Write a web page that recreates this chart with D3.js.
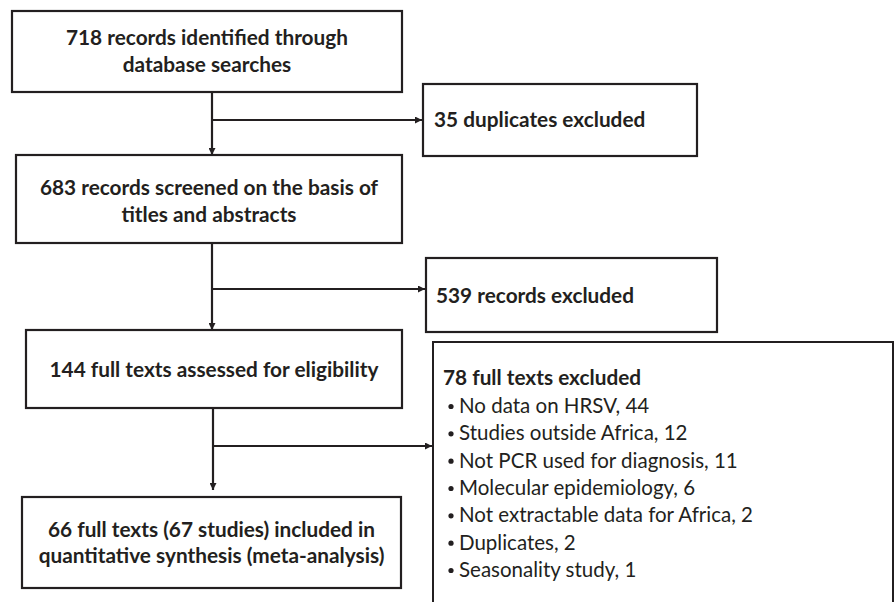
<!DOCTYPE html>
<html>
<head>
<meta charset="utf-8">
<script src="https://cdn.jsdelivr.net/npm/d3@7"></script>
<style>
  html, body { margin: 0; padding: 0; background: #fff; }
  svg { display: block; }
</style>
</head>
<body>
<svg id="chart" width="894" height="602"></svg>
<script>
// ---- data ----
const stageCounts = [718, 683, 144, 66];
const stageLines = [
  ["718 records identified through", "database searches"],
  ["683 records screened on the basis of", "titles and abstracts"],
  ["144 full texts assessed for eligibility"],
  ["66 full texts (67 studies) included in", "quantitative synthesis (meta-analysis)"]
];
const excludedCounts = [35, 539, 78];
const excludedTitles = ["35 duplicates excluded", "539 records excluded", "78 full texts excluded"];
const reasonLabels = [
  "No data on HRSV", "Studies outside Africa", "Not PCR used for diagnosis",
  "Molecular epidemiology", "Not extractable data for Africa", "Duplicates", "Seasonality study"
];
const reasonCounts = [44, 12, 11, 6, 2, 2, 1];

// ---- layout ----
const ink = "#231f20";
const svg = d3.select("#chart");
const font = "Lato, 'Open Sans', sans-serif";
const boldSize = 20.8;
const regSize = 20.5;

svg.append("defs").append("marker")
  .attr("id", "arr").attr("viewBox", "0 0 10 10")
  .attr("refX", 10).attr("refY", 5)
  .attr("markerWidth", 7).attr("markerHeight", 7)
  .attr("markerUnits", "userSpaceOnUse")
  .attr("orient", "auto")
  .append("path").attr("d", "M0,0 L10,5 L0,10 Z").attr("fill", ink);

// main stage boxes
const stageBoxes = [
  {x0: 12, x1: 402, y0: 11, y1: 92, base: [45, 72]},
  {x0: 16, x1: 402, y0: 155, y1: 243, base: [195, 222]},
  {x0: 26, x1: 402, y0: 330, y1: 408, base: [377]},
  {x0: 22, x1: 401, y0: 497, y1: 588, base: [537, 563]}
];
const sideBoxes = [
  {x0: 423, x1: 697, y0: 84, y1: 156, tx: 434, base: 127, arrowY: 120},
  {x0: 426, x1: 717, y0: 258, y1: 332, tx: 436, base: 303, arrowY: 289},
  {x0: 433, x1: 893, y0: 342, y1: 640, tx: 443, base: 385, arrowY: 446}
];
const spineX = [212, 212, 213];

const g = svg.append("g");

stageBoxes.forEach((b, i) => {
  g.append("rect").attr("x", b.x0).attr("y", b.y0)
    .attr("width", b.x1 - b.x0).attr("height", b.y1 - b.y0)
    .attr("fill", "none").attr("stroke", ink).attr("stroke-width", 2.2);
  stageLines[i].forEach((t, j) => {
    g.append("text").attr("x", (b.x0 + b.x1) / 2).attr("y", b.base[j])
      .attr("text-anchor", "middle").attr("fill", ink)
      .attr("font-family", font).attr("font-weight", 700).attr("font-size", boldSize)
      .text(t);
  });
});

sideBoxes.forEach((b, i) => {
  g.append("rect").attr("x", b.x0).attr("y", b.y0)
    .attr("width", b.x1 - b.x0).attr("height", b.y1 - b.y0)
    .attr("fill", "none").attr("stroke", ink).attr("stroke-width", i === 2 ? 2 : 2.2);
  g.append("text").attr("x", b.tx).attr("y", b.base)
    .attr("fill", ink).attr("font-family", font)
    .attr("font-weight", 700).attr("font-size", boldSize)
    .text(excludedTitles[i]);
});

// connectors
for (let i = 0; i < 3; i++) {
  const a = stageBoxes[i], b = stageBoxes[i + 1], s = sideBoxes[i];
  const gapEnd = i === 2 ? b.y0 - 7 : b.y0;
  g.append("line").attr("x1", spineX[i]).attr("x2", spineX[i])
    .attr("y1", a.y1).attr("y2", gapEnd)
    .attr("stroke", ink).attr("stroke-width", 2.2).attr("marker-end", "url(#arr)");
  g.append("line").attr("x1", spineX[i]).attr("x2", s.x0 - 1)
    .attr("y1", s.arrowY).attr("y2", s.arrowY)
    .attr("stroke", ink).attr("stroke-width", 2.2).attr("marker-end", "url(#arr)");
}

// reasons list
const reasonY = d3.scaleLinear().domain([0, reasonLabels.length - 1]).range([413, 577]);
const rg = g.append("g");
reasonLabels.forEach((lab, i) => {
  rg.append("circle").attr("cx", 451).attr("cy", reasonY(i) - 6.5).attr("r", 2.6).attr("fill", ink);
  rg.append("text").attr("x", 459).attr("y", reasonY(i))
    .attr("fill", ink).attr("font-family", font).attr("font-size", regSize)
    .text(lab + ", " + reasonCounts[i]);
});
</script>
</body>
</html>
